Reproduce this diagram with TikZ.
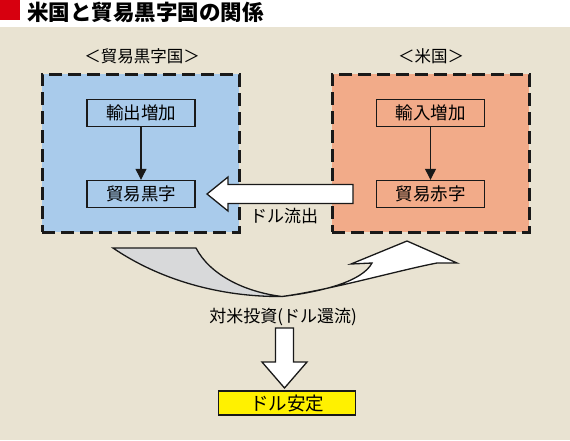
\documentclass[tikz,border=0pt]{standalone}
\usepackage{fontspec}
\setmainfont{Noto Sans CJK JP}
\usetikzlibrary{arrows.meta}
\definecolor{bgbeige}{HTML}{E9E3D2}
\definecolor{titlered}{HTML}{D7000F}
\definecolor{lblue}{HTML}{A9CBEB}
\definecolor{lorange}{HTML}{F2AB89}
\definecolor{lgrey}{HTML}{D8D9DA}
\definecolor{dyellow}{HTML}{FFF100}
\tikzset{
  fs/.style={font=\fontsize{#1}{#1}\selectfont},
  dbox/.style={draw=black!90, line width=3pt, dash pattern=on 13pt off 6pt, minimum width=197pt, minimum height=158pt, inner sep=0pt},
  inbox/.style={draw=black!90, line width=1.4pt, minimum width=108pt, minimum height=27pt, inner sep=0pt, fs=17.5},
  lbl/.style={inner sep=0pt, fs=#1},
  blk/.style={draw=black!90, line width=1.3pt, line join=miter},
  thin/.style={-{Triangle[width=11pt,length=11pt]}, line width=1.2pt, draw=black!90}
}
\begin{document}
\begin{tikzpicture}[x=1pt,y=-1pt]
\useasboundingbox (0,0) rectangle (570,440);
\fill[white] (0,0) rectangle (570,27);
\fill[bgbeige] (0,27) rectangle (570,440);
\fill[titlered] (0,0) rectangle (20,20);
\node[lbl=21.5, anchor=west, font=\fontsize{21.5}{21.5}\selectfont\bfseries] (title) at (27,12) {米国と貿易黒字国の関係};

\node[lbl=16.5] (llab) at (142,56) {＜貿易黒字国＞};
\node[lbl=16.5] (rlab) at (431,56) {＜米国＞};

\node[dbox, fill=lblue] (lbox) at (140.5,153) {};
\node[dbox, fill=lorange] (rbox) at (430.5,153) {};

\node[inbox] (le) at (141,113) {輸出増加};
\node[inbox] (lt) at (141,194) {貿易黒字};
\node[inbox] (ri) at (430.5,113) {輸入増加};
\node[inbox] (rd) at (430.5,194) {貿易赤字};

\draw[thin] (le) -- (lt);
\draw[thin] (ri) -- (rd);

% block arrow: dollar outflow
\draw[blk, fill=white] (353,184.5) -- (228,184.5) -- (228,177) -- (207,194) -- (228,211) -- (228,203.5) -- (353,203.5) -- cycle;
\node[lbl=17] (out) at (284,216) {ドル流出};

% curved arrows
\coordinate (m) at (282,296.5);
\draw[blk, fill=lgrey] (113,248) -- (196,248) .. controls (210,275) and (245,292) .. (m) .. controls (220,297) and (160,280) .. (113,248) -- cycle;
\draw[blk, fill=white] (m) .. controls (320,292) and (362,282) .. (372,263) -- (351,264) -- (407,241) -- (457,263) -- (437,263) .. controls (400,270) and (330,290) .. (m) -- cycle;

\node[lbl=17] (inv) at (283,317) {対米投資(ドル還流)};

% down block arrow
\draw[blk, fill=white] (275.5,328) -- (293.5,328) -- (293.5,362) -- (307,362) -- (284.5,388) -- (262,362) -- (275.5,362) -- cycle;

\node[draw=black!90, line width=1.5pt, fill=dyellow, minimum width=137pt, minimum height=24pt, inner sep=0pt, fs=18.5] (stab) at (287,403) {ドル安定};
\end{tikzpicture}
\end{document}
